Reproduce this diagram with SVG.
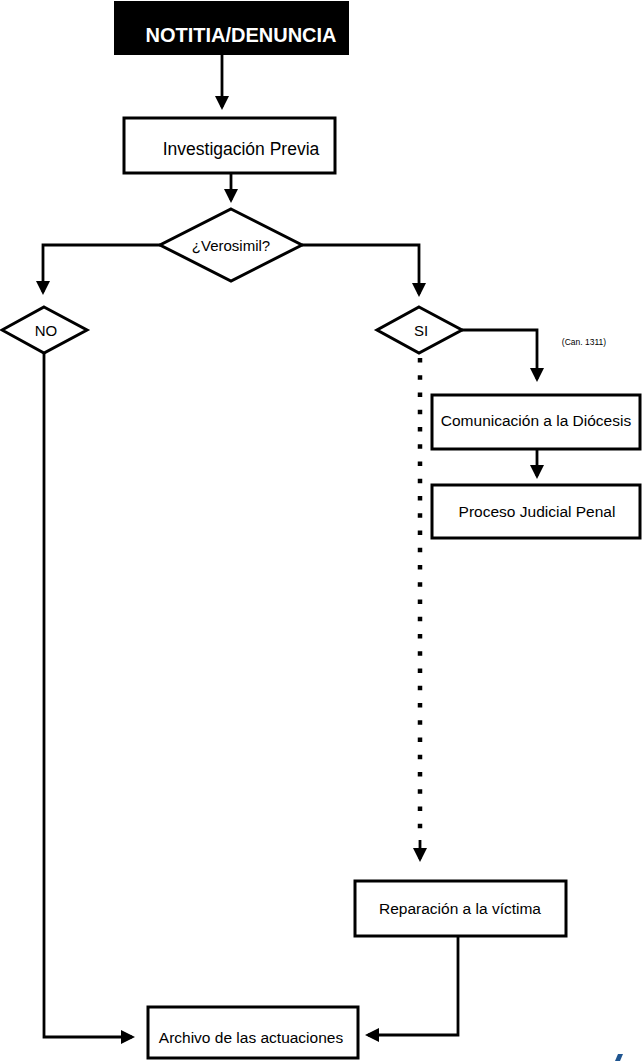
<svg xmlns="http://www.w3.org/2000/svg" width="642" height="1062" viewBox="0 0 642 1062">
<style>
.box{fill:#fff;stroke:#000;stroke-width:3}
.lbl{font-family:"Liberation Sans",Arial,sans-serif;fill:#000;text-anchor:middle}
.ln{fill:none;stroke:#000;stroke-width:2.8}
.dot{fill:none;stroke:#000;stroke-width:4.5;stroke-dasharray:4.5 12.75}
</style>
<defs>
<marker id="ah" viewBox="0 0 14 14" refX="11" refY="7" markerWidth="14" markerHeight="14" markerUnits="userSpaceOnUse" orient="auto">
<path d="M0,0 L14,7 L0,14 z" fill="#000"/>
</marker>
</defs>
<rect width="642" height="1062" fill="#fff"/>

<g id="connectors">
<path class="ln" d="M222,55 V107" marker-end="url(#ah)"/>
<path class="ln" d="M231,173 V200" marker-end="url(#ah)"/>
<path class="ln" d="M160,245 H43 V292" marker-end="url(#ah)"/>
<path class="ln" d="M302,245 H419 V294" marker-end="url(#ah)"/>
<path class="ln" d="M462,330 H537 V379" marker-end="url(#ah)"/>
<path class="ln" d="M537,449 V476" marker-end="url(#ah)"/>
<path class="dot" d="M420,358 V830"/>
<path class="ln" d="M420,840 V859" marker-end="url(#ah)"/>
<path class="ln" d="M44,353 V1037 H132" marker-end="url(#ah)"/>
<path class="ln" d="M458,936 V1035 H368" marker-end="url(#ah)"/>
</g>

<g id="notitia">
<rect x="114" y="1" width="235" height="54" fill="#000"/>
<text class="lbl" x="241" y="42" font-size="20" font-weight="bold" fill="#fff" style="fill:#fff">NOTITIA/DENUNCIA</text>
</g>

<g id="investigacion">
<rect class="box" x="124" y="118" width="211" height="55"/>
<text class="lbl" x="241" y="155" font-size="17.5">Investigación Previa</text>
</g>

<g id="verosimil">
<polygon class="box" points="231,209 302,245 231,281 160,245"/>
<text class="lbl" x="231" y="251" font-size="15">¿Verosimil?</text>
</g>

<g id="no">
<polygon class="box" points="44,307 87,330 44,353 2,330"/>
<text class="lbl" x="46" y="336" font-size="15">NO</text>
</g>

<g id="si">
<polygon class="box" points="419,307 462,330 419,353 377,330"/>
<text class="lbl" x="421" y="336" font-size="15">SI</text>
</g>

<g id="can">
<text class="lbl" x="584" y="345" font-size="8.5">(Can. 1311)</text>
</g>

<g id="comunicacion">
<rect class="box" x="432" y="395" width="208" height="54"/>
<text class="lbl" x="536" y="426" font-size="15.5">Comunicación a la Diócesis</text>
</g>

<g id="proceso">
<rect class="box" x="432" y="485" width="208" height="53"/>
<text class="lbl" x="537" y="517" font-size="15.5">Proceso Judicial Penal</text>
</g>

<g id="reparacion">
<rect class="box" x="355" y="881" width="211" height="55"/>
<text class="lbl" x="460" y="914" font-size="15.5">Reparación a la víctima</text>
</g>

<g id="archivo">
<rect class="box" x="148" y="1007" width="210" height="51"/>
<text class="lbl" x="251" y="1043" font-size="15.5">Archivo de las actuaciones</text>
</g>

<polygon points="618,1054 623,1054 620,1061 615,1061" fill="#1f5590"/>
</svg>
